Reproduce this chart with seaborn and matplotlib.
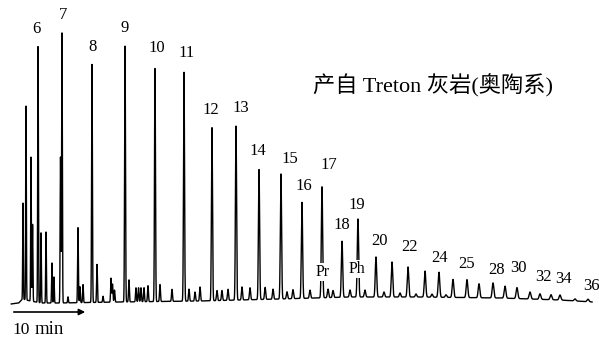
import numpy as np
import pandas as pd
import matplotlib
matplotlib.use("Agg")
import matplotlib.pyplot as plt
import seaborn as sns

# ---------------- data ----------------
# n-alkane peaks: carbon number, retention time (min), height (relative)
alkane_c = [6, 7, 8, 9, 10, 11, 12, 13, 14, 15, 16, 17, 18, 19, 20, 21, 22, 23,
            24, 25, 26, 27, 28, 29, 30, 31, 32, 33, 34, 35, 36]
alkane_t = [3.51, 6.62, 10.52, 14.81, 18.70, 22.47, 26.10, 29.22, 32.21, 35.06,
            37.79, 40.39, 42.99, 45.06, 47.40, 49.48, 51.56, 53.77, 55.58, 57.40,
            59.22, 60.78, 62.60, 64.16, 65.71, 67.40, 68.70, 70.13, 71.30, 73.25,
            74.94]
alkane_h = [256, 270, 238, 256, 233, 229, 173, 174, 130, 125, 96, 111, 56, 78,
            40, 35, 30, 26, 25, 18, 18, 14, 15, 12, 11, 7, 5.5, 5, 5, 2, 2.5]

# minor (unlabelled) peaks: retention time (min), height
minor_t = [1.56, 1.95, 2.60, 2.80, 3.90, 4.55, 5.32, 5.58, 6.43, 7.40, 8.70, 8.96,
           9.35, 11.17, 11.95, 12.99, 13.18, 13.44, 15.32, 16.23, 16.56, 16.88,
           17.27, 17.79, 19.35, 20.91, 23.12, 23.90, 24.55, 26.75, 27.40, 28.18,
           30.00, 31.04, 33.00, 34.03, 35.84, 36.62, 38.83, 41.17, 41.82, 44.03,
           45.97, 48.44, 50.52, 52.60, 54.68, 56.49]
minor_h = [96, 194, 144, 77, 70, 71, 40, 26, 146, 6, 75, 16, 18, 38, 6, 24, 18,
           12, 22, 14, 14, 14, 14, 16, 17, 12, 12, 9, 14, 10, 10, 11, 13, 12, 12,
           10, 7, 9, 8, 8.5, 7, 7, 7, 5, 4, 3, 3, 2.5]

# baseline (retention time, level)
base_t = [0.0, 1.0, 1.5, 2.5, 4.0, 6.36, 14.16, 24.55, 34.94, 44.03, 53.12,
          63.51, 71.30, 75.5]
base_y = [35, 36, 40, 38, 36, 36, 37, 38, 40, 42, 42, 41, 39, 37]

peak_labels = ["6", "7", "8", "9", "10", "11", "12", "13", "14", "15", "16",
               "17", "18", "19", "20", "22", "24", "25", "28", "30", "32", "34",
               "36"]
title_text = "产自 Treton 灰岩(奥陶系)"
scale_value = "10"
scale_unit = "min"

# ---------------- build trace ----------------
t = np.arange(0.0, 75.5, 0.004)
signal = np.interp(t, base_t, base_y)
all_t = alkane_t + minor_t
all_h = alkane_h + minor_h
for tc, hc in zip(all_t, all_h):
    sig = 0.04 + tc * 0.0011  # peak broadening with time (min)
    signal = signal + hc * np.exp(-0.5 * ((t - tc) / sig) ** 2)
df = pd.DataFrame({"time": t, "signal": signal})

# ---------------- plot ----------------
sns.set_style("white")
plt.rcParams["font.family"] = ["Liberation Serif", "Noto Sans CJK SC", "DejaVu Sans"]

fig = plt.figure(figsize=(5.99, 3.39), dpi=100)
ax = fig.add_axes([0, 0, 1, 1])
sns.lineplot(data=df, x="time", y="signal", ax=ax, color="black", lw=1.0,
             estimator=None, sort=False)
ax.set_xlim(-11 / 7.7, (599 - 11) / 7.7)
ax.set_ylim(0, 339)
ax.set_axis_off()


def px(x, y):
    return (x - 11) / 7.7, 339 - y


# label layout in pixel space
label_pos = [(36, 29), (63, 15), (93, 47), (125, 28), (157, 48), (187, 53),
             (211, 110), (241, 108), (258, 151), (290, 159), (304, 186),
             (329, 165), (342, 225), (357, 205), (379, 241), (410, 247),
             (440, 258), (467, 264), (497, 270), (518, 268), (543, 277),
             (564, 279), (591, 286)]
for lab, (lx, ly) in zip(peak_labels, label_pos):
    ax.text(*px(lx, ly), lab, ha="center", va="center", fontsize=12,
            color="black")

for lab, (lx, ly) in zip(["Pr", "Ph"], [(323, 272), (357, 269)]):
    ax.text(*px(lx, ly), lab, ha="center", va="center", fontsize=11.5,
            color="black",
            bbox=dict(facecolor="white", edgecolor="none", pad=0.8))

ax.text(*px(313, 86), title_text, ha="left", va="center", fontsize=16,
        color="black")

# time scale arrow
ax.annotate("", xy=px(88, 312), xytext=px(11, 312),
            arrowprops=dict(arrowstyle="-|>", color="black", lw=1.2,
                            mutation_scale=9))
ax.text(*px(12, 330), scale_value, ha="left", va="center", fontsize=12.5,
        color="black")
ax.text(*px(35, 330), scale_unit, ha="left", va="center", fontsize=13.5,
        color="black")

fig.savefig("out.png", dpi=100)
